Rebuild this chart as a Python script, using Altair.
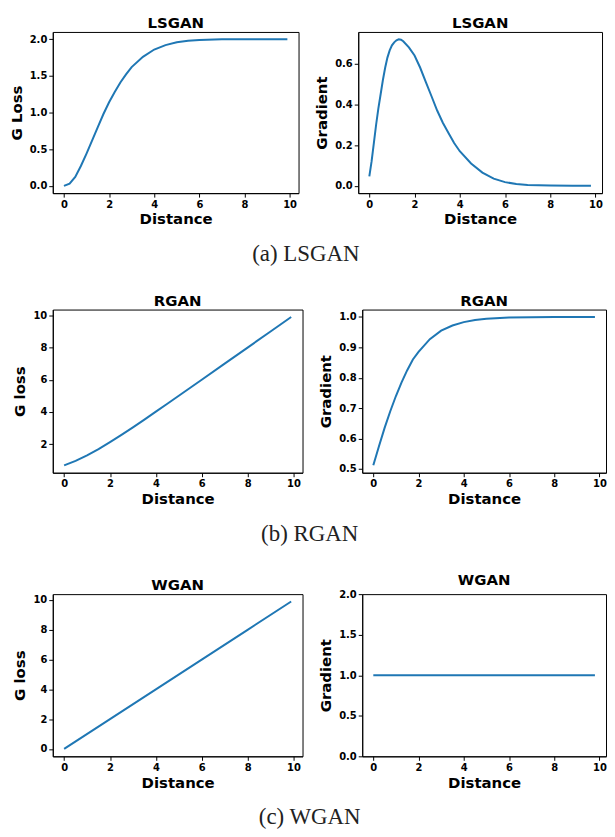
import altair as alt
import pandas as pd

# ---------------- data ----------------
ls_loss_x = [0.0, 0.25, 0.5, 0.75, 1.0, 1.25, 1.5, 1.75, 2.0, 2.25, 2.5, 2.75, 3.0,
             3.5, 4.0, 4.5, 5.0, 5.5, 6.0, 7.0, 8.0, 9.0, 9.9]
ls_loss_y = [0.0, 0.03, 0.12, 0.27, 0.44, 0.62, 0.80, 0.98, 1.14, 1.28, 1.41, 1.52, 1.62,
             1.76, 1.86, 1.92, 1.96, 1.98, 1.99, 2.0, 2.0, 2.0, 2.0]

ls_grad_x = [0.0, 0.1, 0.2, 0.3, 0.4, 0.5, 0.6, 0.7, 0.8, 0.9, 1.0, 1.1, 1.2, 1.3, 1.4,
             1.5, 1.75, 2.0, 2.25, 2.5, 2.75, 3.0, 3.25, 3.5, 3.75, 4.0, 4.5, 5.0,
             5.5, 6.0, 6.5, 7.0, 8.0, 9.0, 9.8]
ls_grad_y = [0.046, 0.12, 0.21, 0.30, 0.38, 0.45, 0.52, 0.58, 0.63, 0.665, 0.69, 0.705,
             0.715, 0.72, 0.718, 0.71, 0.68, 0.64, 0.58, 0.51, 0.44, 0.37, 0.31, 0.26,
             0.21, 0.17, 0.11, 0.065, 0.035, 0.018, 0.009, 0.004, 0.001, 0.0, 0.0]

r_loss_x = [0.0, 0.5, 1.0, 1.5, 2.0, 2.5, 3.0, 3.5, 4.0, 4.5, 5.0, 6.0, 7.0, 8.0, 9.0, 9.9]
r_loss_y = [0.69, 0.97, 1.31, 1.70, 2.13, 2.58, 3.05, 3.53, 4.02, 4.51, 5.01, 6.0, 7.0,
            8.0, 9.0, 9.9]

r_grad_x = [0.0, 0.25, 0.5, 0.75, 1.0, 1.25, 1.5, 1.75, 2.0, 2.5, 3.0, 3.5, 4.0, 4.5,
            5.0, 6.0, 7.0, 8.0, 9.0, 9.8]
r_grad_y = [0.512, 0.575, 0.635, 0.69, 0.74, 0.785, 0.825, 0.86, 0.885, 0.927, 0.955,
            0.972, 0.983, 0.99, 0.994, 0.998, 0.999, 1.0, 1.0, 1.0]

w_loss_x = [0.0, 2.0, 4.0, 6.0, 8.0, 9.9]
w_loss_y = [0.0, 2.0, 4.0, 6.0, 8.0, 9.9]

w_grad_x = [0.0, 2.0, 4.0, 6.0, 8.0, 9.8]
w_grad_y = [1.0, 1.0, 1.0, 1.0, 1.0, 1.0]

x_ticks = [0, 2, 4, 6, 8, 10]
captions = ["(a) LSGAN", "(b) RGAN", "(c) WGAN"]

LINE = "#1f77b4"


def panel(xs, ys, title, ytitle, ydom, yticks, yfmt, xdom, w, h, toff=1):
    df = pd.DataFrame({"d": xs, "v": ys})
    return (
        alt.Chart(df, title=alt.Title(title, offset=toff))
        .mark_line(color=LINE, strokeWidth=2)
        .encode(
            x=alt.X("d:Q",
                    scale=alt.Scale(domain=xdom, nice=False, zero=False),
                    axis=alt.Axis(values=x_ticks, format="d", title="Distance")),
            y=alt.Y("v:Q",
                    scale=alt.Scale(domain=ydom, nice=False, zero=False),
                    axis=alt.Axis(values=yticks, format=yfmt, title=ytitle)),
        )
        .properties(width=w, height=h)
    )


def caption(text):
    return alt.Title(text, orient="bottom", anchor="middle", font="Liberation Serif",
                     fontSize=23, fontWeight="normal", color="#222222", offset=16)


row1 = alt.hconcat(
    panel(ls_loss_x, ls_loss_y, "LSGAN", "G Loss", [-0.1, 2.1], [0, 0.5, 1.0, 1.5, 2.0],
          ".1f", [-0.495, 10.395], 247, 162),
    panel(ls_grad_x, ls_grad_y, "LSGAN", "Gradient", [-0.036, 0.756], [0, 0.2, 0.4, 0.6],
          ".1f", [-0.49, 10.29], 245, 162),
    spacing=14, title=caption(captions[0]),
)

row2 = alt.hconcat(
    panel(r_loss_x, r_loss_y, "RGAN", "G loss", [0.23, 10.36], [2, 4, 6, 8, 10],
          "d", [-0.495, 10.395], 251, 164),
    panel(r_grad_x, r_grad_y, "RGAN", "Gradient", [0.4876, 1.0244],
          [0.5, 0.6, 0.7, 0.8, 0.9, 1.0], ".1f", [-0.49, 10.29], 245, 164),
    spacing=14, title=caption(captions[1]),
)

row3 = alt.hconcat(
    panel(w_loss_x, w_loss_y, "WGAN", "G loss", [-0.495, 10.395], [0, 2, 4, 6, 8, 10],
          "d", [-0.495, 10.395], 251, 163),
    panel(w_grad_x, w_grad_y, "WGAN", "Gradient", [0.0, 2.0], [0, 0.5, 1.0, 1.5, 2.0],
          ".1f", [-0.49, 10.29], 245, 163),
    spacing=14, title=caption(captions[2]),
)

chart = (
    alt.vconcat(row1, row2, row3, spacing=26)
    .properties(padding={"left": 0, "top": 5, "right": 0, "bottom": 0})
    .configure_view(stroke="black", strokeWidth=1)
    .configure_axis(
        grid=False,
        domainColor="black",
        tickColor="black",
        tickSize=4,
        labelFont="DejaVu Sans",
        labelFontWeight="bold",
        labelFontSize=10,
        labelColor="black",
        labelPadding=2,
        titleFont="DejaVu Sans",
        titleFontWeight="bold",
        titleFontSize=15,
        titleColor="black",
    )
    .configure_axisX(titlePadding=3)
    .configure_axisY(titlePadding=5)
    .configure_title(font="DejaVu Sans", fontSize=15, fontWeight="bold", color="black")
)

chart.save("out.html", embed_options={"renderer": "svg", "actions": False})
